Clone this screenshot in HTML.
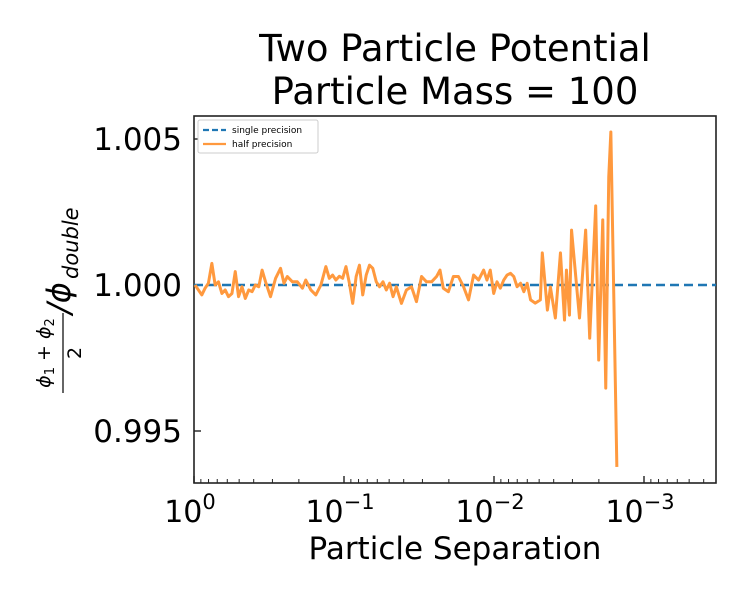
<!DOCTYPE html>
<html><head><meta charset="utf-8"><style>
body{margin:0;background:#fff}
svg{display:block;font-family:"DejaVu Sans","Liberation Sans",sans-serif}
</style></head><body>
<svg width="750" height="600" viewBox="0 0 750 600">
<text x="455" y="61" font-size="37" text-anchor="middle">Two Particle Potential</text>
<text x="455" y="104" font-size="37" text-anchor="middle">Particle Mass = 100</text>
<g id="plot"></g>
<text x="455" y="559" font-size="31" text-anchor="middle">Particle Separation</text>
<g transform="rotate(-90)">
<text x="-353" y="50" font-size="19" text-anchor="middle" font-style="italic">ϕ<tspan font-size="13" font-style="normal" dy="4">1</tspan><tspan dy="-4" font-style="normal"> + </tspan>ϕ<tspan font-size="13" font-style="normal" dy="4">2</tspan></text>
<line x1="-393" x2="-313" y1="63" y2="63" stroke="#000" stroke-width="1.2"/>
<text x="-353" y="81" font-size="19" text-anchor="middle">2</text>
<text x="-314" y="70" font-size="32" font-style="italic">/ϕ</text>
<text x="-279" y="78" font-size="21" font-style="italic">double</text>
</g>
</svg>
<script>
const sepLog10 = [-0.007,-0.052,-0.074,-0.096,-0.119,-0.141,-0.163,-0.186,-0.208,-0.230,-0.253,-0.275,-0.297,-0.320,-0.342,-0.365,-0.387,-0.409,-0.432,-0.454,-0.477,-0.510,-0.544,-0.577,-0.600,-0.622,-0.656,-0.689,-0.723,-0.745,-0.779,-0.812,-0.846,-0.879,-0.902,-0.924,-0.946,-0.969,-0.991,-1.013,-1.036,-1.058,-1.081,-1.103,-1.125,-1.148,-1.170,-1.192,-1.215,-1.237,-1.260,-1.282,-1.304,-1.327,-1.349,-1.383,-1.416,-1.450,-1.483,-1.517,-1.550,-1.584,-1.617,-1.640,-1.662,-1.696,-1.729,-1.763,-1.797,-1.830,-1.864,-1.897,-1.931,-1.953,-1.975,-1.998,-2.020,-2.042,-2.065,-2.087,-2.110,-2.132,-2.154,-2.177,-2.199,-2.221,-2.244,-2.275,-2.309,-2.322,-2.356,-2.376,-2.409,-2.443,-2.470,-2.483,-2.503,-2.517,-2.570,-2.611,-2.638,-2.678,-2.698,-2.725,-2.745,-2.765,-2.779,-2.819];
const halfOffsetE4 = [0,-3.4,-1.1,0.6,7.4,0,1.1,-2.9,-1.7,-4.0,-2.9,4.6,-4.0,-0.6,-4.6,-1.7,-2.3,0,-0.6,5.1,1.1,-4.0,2.3,5.7,0.6,2.9,1.1,1.1,-1.1,1.7,-1.7,-3.4,0,6.3,2.3,3.4,1.7,3.0,2.3,6.3,0.6,-6.3,2.9,6.8,-3.4,3.4,6.8,5.7,1.1,-0.6,1.1,-1.7,0.6,-4.0,-0.6,-6.3,-1.7,-0.6,-5.7,2.9,1.1,1.1,2.9,5.1,-1.1,-2.3,2.9,2.9,-0.6,-5.1,3.4,1.7,5.1,1.7,5.1,-2.9,1.1,-1.1,1.7,3.4,4.0,2.9,-0.6,0.6,-2.3,0.6,-5.1,-6.2,-5.1,11.0,-8.6,-0.7,-11.3,11.0,-12.0,5.1,-10.3,18.8,-11.3,18.8,-18.2,27.1,-25.7,22.3,-35.3,37.0,52.4,-62.3];
const singleSepLog10 = [0,-3.48];
const singleRatio = [1.0,1.0];
const yTicks = [0.995,1.000,1.005];
const yTickLabels = ["0.995","1.000","1.005"];
const xTickExp = [0,-1,-2,-3];
const xTickLabels = ["0","\u22121","\u22122","\u22123"];

const L=194,R=716,T=116,B=483,NS="http://www.w3.org/2000/svg";
const xMin=0,xMax=-3.48;
const X=v=>L+(v-xMin)/(xMax-xMin)*(R-L);
const Y=v=>285-(v-1)/0.005*146;
const g=document.getElementById('plot');
function mk(t,a){const e=document.createElementNS(NS,t);for(const k in a)e.setAttribute(k,a[k]);g.appendChild(e);return e;}

let e=mk('rect',{x:L,y:T,width:R-L,height:B-T,fill:'none',stroke:'#222','stroke-width':1.6});



yTicks.forEach((v,i)=>{
  let t=mk('line',{x1:L,x2:L+7,y1:Y(v),y2:Y(v),stroke:'#222','stroke-width':1.4});
  
  
  let l=mk('text',{x:L-12,y:Y(v)+11,'font-size':31,'text-anchor':'end'});
  l.textContent=yTickLabels[i];
  
  
});
xTickExp.forEach((p,i)=>{
  let t=mk('line',{x1:X(p),x2:X(p),y1:B,y2:B-7,stroke:'#222','stroke-width':1.4});
  
  
  let l=mk('text',{x:X(p)-4,y:522,'font-size':30,'text-anchor':'middle'});
  l.innerHTML='10<tspan dy="-13" font-size="21">'+xTickLabels[i]+'</tspan>';
  
  
  for(let m=2;m<=9;m++){
    const v=p-1+Math.log10(m);
    if(v<xMax)continue;
    let n=mk('line',{x1:X(v),x2:X(v),y1:B,y2:B-4,stroke:'#222','stroke-width':1});
    
    
  }
});

let sp=mk('polyline',{points:singleSepLog10.map((s,i)=>X(s)+','+Y(singleRatio[i])).join(' '),fill:'none',stroke:'#1f77b4','stroke-width':2.6,'stroke-dasharray':'9,5'});


let hp=mk('polyline',{points:sepLog10.map((s,i)=>X(s)+','+Y(1+halfOffsetE4[i]*1e-4)).join(' '),fill:'none',stroke:'#ff993e','stroke-width':3,'stroke-linejoin':'round'});



let lg=mk('rect',{x:198,y:120,width:120,height:33,fill:'#fff',stroke:'#ccc','stroke-width':1,rx:2});


let l1=mk('line',{x1:203,x2:226,y1:130,y2:130,stroke:'#1f77b4','stroke-width':2.2,'stroke-dasharray':'6,3'});


let t1=mk('text',{x:232,y:133,'font-size':9});t1.textContent='single precision';


let l2=mk('line',{x1:203,x2:226,y1:144,y2:144,stroke:'#ff993e','stroke-width':2.2});


let t2=mk('text',{x:232,y:147,'font-size':9});t2.textContent='half precision';


</script>
</body></html>
